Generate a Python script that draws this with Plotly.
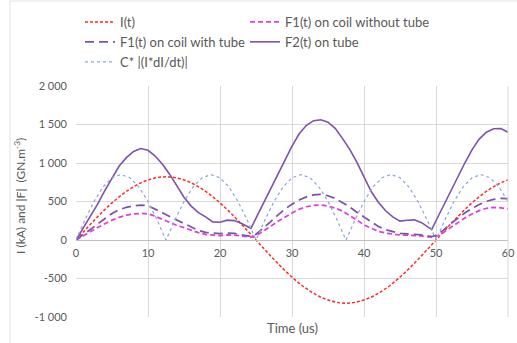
import plotly.graph_objects as go

# ---- data ----
t_a = [0, 1.25, 2.5, 3.75, 5, 6.25, 7.5, 8.75, 10, 11.25, 12.5, 13.75, 15, 16.25, 17.5, 18.75,
       20, 21.25, 22.5, 23.75, 25, 26.25, 27.5, 28.75, 30, 31.25, 32.5, 33.75, 35, 36.25, 37.5,
       38.75, 40, 41.25, 42.5, 43.75, 45, 46.25, 47.5, 48.75, 50, 51.25, 52.5, 53.75, 55, 56.25,
       57.5, 58.75, 60]
i_t = [0, 128, 253, 372, 482, 580, 663, 731, 780, 810, 820, 810, 780, 731, 663, 580,
       482, 372, 253, 128, 0, -128, -253, -372, -482, -580, -663, -731, -780, -810, -820,
       -810, -780, -731, -663, -580, -482, -372, -253, -128, 0, 128, 253, 372, 482, 580,
       663, 731, 780]
c_idi = [0, 263, 500, 688, 808, 850, 808, 688, 500, 263, 0, 263, 500, 688, 808, 850,
         808, 688, 500, 263, 0, 263, 500, 688, 808, 850, 808, 688, 500, 263, 0,
         263, 500, 688, 808, 850, 808, 688, 500, 263, 0, 263, 500, 688, 808, 850,
         808, 688, 500]

t_f = [0, 1, 2, 3, 4, 5, 6, 7, 8, 9, 10, 11, 12, 13, 14, 15, 16, 17, 18, 19, 20, 21, 22, 23, 24,
       24.3, 25, 26, 27, 28, 29, 30, 31, 32, 33, 34, 35, 36, 37, 38, 39, 40, 41, 42, 43, 44, 45,
       46, 47, 48, 49, 49.4, 50, 51, 52, 53, 54, 55, 56, 57, 58, 59, 60]
f1_without = [0, 50, 108, 162, 212, 258, 295, 322, 338, 345, 340, 310, 268, 228, 190, 160, 125,
              95, 72, 62, 58, 66, 64, 52, 40, 36, 55, 110, 175, 240, 300, 350, 400, 432, 450,
              456, 440, 415, 375, 320, 260, 195, 148, 112, 90, 75, 65, 62, 60, 52, 40, 36, 45,
              95, 160, 225, 285, 338, 382, 412, 424, 418, 405]
f1_with = [0, 70, 145, 215, 285, 345, 393, 425, 445, 452, 445, 405, 355, 305, 258, 212, 165,
           125, 98, 88, 84, 90, 86, 68, 50, 45, 75, 150, 235, 320, 400, 465, 520, 560, 585,
           592, 575, 540, 490, 430, 360, 295, 230, 175, 135, 105, 85, 78, 76, 66, 52, 45, 60,
           125, 210, 285, 350, 410, 462, 502, 528, 540, 538]
f2_tube = [0, 155, 310, 465, 640, 810, 960, 1070, 1150, 1188, 1165, 1090, 985, 855, 700, 555,
           440, 355, 300, 235, 230, 258, 252, 215, 165, 150, 285, 470, 660, 850, 1040, 1220,
           1380, 1490, 1550, 1562, 1530, 1450, 1320, 1180, 1010, 810, 630, 490, 380, 300, 245,
           256, 262, 225, 165, 135, 250, 440, 630, 820, 1000, 1170, 1310, 1400, 1445, 1448, 1400]

y_ticks = [-1000, -500, 0, 500, 1000, 1500, 2000]
y_labels = ["-1\u00a0000", "-500", "0", "500", "1\u00a0000", "1\u00a0500", "2\u00a0000"]
x_ticks = [0, 10, 20, 30, 40, 50, 60]

FONT = "Lato"
GREY = "#595959"
PURPLE = "#7d52a8"

W, H = 517, 343
L, R, T, B = 76, 9, 86, 26
PW, PH = W - L - R, H - T - B

fig = go.Figure()
fig.add_trace(go.Scatter(x=t_a, y=i_t, name="I(t)", mode="lines", legend="legend",
                         line=dict(color="#ff2a2a", width=1.5, dash="3px,2px", shape="spline")))
fig.add_trace(go.Scatter(x=t_f, y=f1_without, name="F1(t) on coil without tube", mode="lines",
                         legend="legend2",
                         line=dict(color="#dd3fdd", width=1.75, dash="5px,3px")))
fig.add_trace(go.Scatter(x=t_f, y=f1_with, name="F1(t) on coil with tube", mode="lines",
                         legend="legend",
                         line=dict(color=PURPLE, width=1.75, dash="9px,5px")))
fig.add_trace(go.Scatter(x=t_f, y=f2_tube, name="F2(t) on tube", mode="lines",
                         legend="legend2",
                         line=dict(color=PURPLE, width=1.6)))
fig.add_trace(go.Scatter(x=t_a, y=c_idi, name="C* |(I*dI/dt)|", mode="lines",
                         legend="legend",
                         line=dict(color="#8fa8d8", width=1.25, dash="dot")))

leg_common = dict(orientation="v", xref="container", yref="container",
                  xanchor="left", yanchor="top",
                  font=dict(family=FONT, size=13, color=GREY),
                  bgcolor="rgba(0,0,0,0)", tracegroupgap=0)

fig.update_layout(
    width=W, height=H,
    margin=dict(l=L, r=R, t=T, b=B, autoexpand=False),
    paper_bgcolor="white", plot_bgcolor="white",
    font=dict(family=FONT, color=GREY, size=11),
    hovermode=False,
    legend=dict(x=80 / W, y=1 - 7 / H, **leg_common),
    legend2=dict(x=245 / W, y=1 - 7 / H, **leg_common),
    xaxis=dict(range=[0, 60], tickvals=x_ticks, ticktext=[str(v) for v in x_ticks],
               showgrid=True, gridcolor="#d9d9d9", gridwidth=1,
               anchor="free", position=1 / 3, showline=True, linecolor="#bfbfbf",
               linewidth=1, ticks="", zeroline=False, ticklabeloverflow="allow",
               tickfont=dict(family=FONT, size=11, color=GREY), ticklabelstandoff=3),
    yaxis=dict(range=[-1000, 2000], tickvals=y_ticks, ticktext=y_labels,
               showgrid=True, gridcolor="#d9d9d9", gridwidth=1, zeroline=False,
               ticks="", showline=False, ticklabeloverflow="allow",
               tickfont=dict(family=FONT, size=11, color=GREY), ticklabelstandoff=8),
    annotations=[
        dict(text="Time (us)", xref="paper", yref="paper", x=0.5,
             y=-(318 - (T + PH)) / PH,
             xanchor="center", yanchor="top", showarrow=False,
             font=dict(family=FONT, size=13, color=GREY)),
        dict(text="I (kA) and |F|  (GN.m<sup>-3</sup>)", xref="paper", yref="paper",
             x=(20 - L) / PW, y=(T + PH - 196) / PH, textangle=-90,
             xanchor="center", yanchor="middle", showarrow=False,
             font=dict(family=FONT, size=12, color=GREY)),
    ],
    shapes=[dict(type="line", xref="paper", yref="paper", x0=1, x1=1, y0=0, y1=1,
                 line=dict(color="#d9d9d9", width=1)),
            dict(type="rect", xref="paper", yref="paper",
                 x0=(10 - L) / PW, x1=(W + 20 - L) / PW,
                 y0=-(H + 20 - (T + PH)) / PH, y1=(T + PH - 1) / PH,
                 line=dict(color="#e3e3e3", width=1), layer="below")],
)

fig.write_html("out.html", config={"displayModeBar": False},
               post_script="document.body.style.margin='0';")
